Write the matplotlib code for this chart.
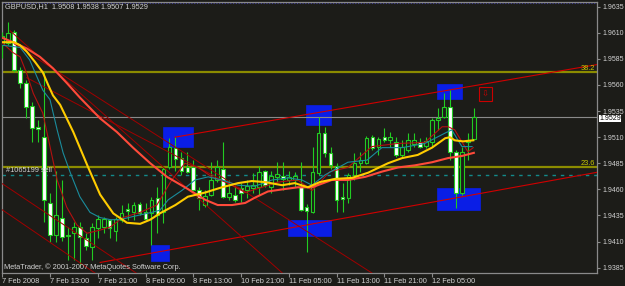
"""GBPUSD H1 chart, MetaTrader-style look."""
import matplotlib
matplotlib.use("Agg")
import matplotlib.pyplot as plt
from matplotlib.patches import Rectangle
from matplotlib.transforms import blended_transform_factory

plt.rcParams['font.family'] = ['Liberation Sans', 'DejaVu Sans']

BG = '#1c1c18'
TXT = '#d2d2d2'
GRID = '#8a8a8a'
CANDLE = '#22cc22'

# hourly bars from 7 Feb 2008 05:00
opens = [1.9598, 1.9600, 1.9611, 1.9574, 1.9562, 1.9540, 1.9520, 1.9510, 1.9447, 1.9416,
         1.9433, 1.9416, 1.9418, 1.9424, 1.9413, 1.9405, 1.9423, 1.9424, 1.9431, 1.9420,
         1.9431, 1.9441, 1.9438, 1.9446, 1.9438, 1.9437, 1.9452, 1.9438, 1.9481, 1.9500,
         1.9490, 1.9481, 1.9481, 1.9459, 1.9445, 1.9455, 1.9469, 1.9480, 1.9453, 1.9455,
         1.9461, 1.9459, 1.9461, 1.9462, 1.9478, 1.9462, 1.9472, 1.9473, 1.9469, 1.9469,
         1.9462, 1.9443, 1.9438, 1.9476, 1.9514, 1.9495, 1.9482, 1.9453, 1.9452, 1.9474,
         1.9485, 1.9485, 1.9510, 1.9501, 1.9510, 1.9507, 1.9505, 1.9493, 1.9498, 1.9503,
         1.9505, 1.9502, 1.9505, 1.9526, 1.9529, 1.9539, 1.9496, 1.9457, 1.9505, 1.9508]
highs = [1.9611, 1.9620, 1.9613, 1.9577, 1.9565, 1.9544, 1.9526, 1.9572, 1.9457, 1.9478,
         1.9469, 1.9424, 1.9429, 1.9429, 1.9418, 1.9428, 1.9435, 1.9434, 1.9432, 1.9434,
         1.9445, 1.9447, 1.9448, 1.9448, 1.9447, 1.9453, 1.9462, 1.9481, 1.9509, 1.9510,
         1.9496, 1.9496, 1.9488, 1.9462, 1.9459, 1.9486, 1.9488, 1.9505, 1.9469, 1.9466,
         1.9466, 1.9469, 1.9476, 1.9482, 1.9479, 1.9478, 1.9486, 1.9486, 1.9478, 1.9477,
         1.9486, 1.9446, 1.9501, 1.9529, 1.9520, 1.9501, 1.9485, 1.9466, 1.9476, 1.9495,
         1.9496, 1.9511, 1.9512, 1.9510, 1.9519, 1.9515, 1.9510, 1.9507, 1.9514, 1.9514,
         1.9509, 1.9510, 1.9528, 1.9538, 1.9552, 1.9555, 1.9498, 1.9501, 1.9514, 1.9538]
lows = [1.9586, 1.9598, 1.9572, 1.9557, 1.9528, 1.9505, 1.9505, 1.9429, 1.9410, 1.9410,
        1.9411, 1.9392, 1.9392, 1.9388, 1.9402, 1.9392, 1.9413, 1.9418, 1.9413, 1.9411,
        1.9429, 1.9431, 1.9431, 1.9435, 1.9431, 1.9407, 1.9418, 1.9428, 1.9480, 1.9478,
        1.9474, 1.9476, 1.9458, 1.9440, 1.9443, 1.9454, 1.9467, 1.9452, 1.9450, 1.9448,
        1.9448, 1.9452, 1.9457, 1.9455, 1.9462, 1.9457, 1.9467, 1.9459, 1.9464, 1.9462,
        1.9439, 1.9400, 1.9437, 1.9474, 1.9491, 1.9480, 1.9438, 1.9438, 1.9447, 1.9469,
        1.9477, 1.9484, 1.9498, 1.9493, 1.9505, 1.9501, 1.9491, 1.9490, 1.9496, 1.9501,
        1.9500, 1.9500, 1.9501, 1.9517, 1.9528, 1.9488, 1.9442, 1.9455, 1.9488, 1.9507]
closes = [1.9607, 1.9610, 1.9574, 1.9562, 1.9539, 1.9519, 1.9518, 1.9450, 1.9416, 1.9435,
          1.9414, 1.9415, 1.9424, 1.9414, 1.9406, 1.9424, 1.9432, 1.9432, 1.9423, 1.9432,
          1.9437, 1.9439, 1.9445, 1.9437, 1.9432, 1.9450, 1.9435, 1.9480, 1.9501, 1.9489,
          1.9478, 1.9477, 1.9459, 1.9452, 1.9454, 1.9469, 1.9481, 1.9453, 1.9457, 1.9450,
          1.9457, 1.9463, 1.9464, 1.9477, 1.9464, 1.9473, 1.9475, 1.9470, 1.9472, 1.9473,
          1.9440, 1.9439, 1.9477, 1.9514, 1.9495, 1.9483, 1.9450, 1.9451, 1.9474, 1.9485,
          1.9488, 1.9509, 1.9500, 1.9508, 1.9507, 1.9510, 1.9493, 1.9501, 1.9507, 1.9507,
          1.9501, 1.9506, 1.9526, 1.9528, 1.9539, 1.9496, 1.9457, 1.9496, 1.9507, 1.9529]

# moving averages (bar position, price)
ma_yellow_x = [0.1, 2.0, 3.0, 4.1, 5.5, 6.8, 7.7, 8.5, 9.7, 11.9, 14.4, 16.4, 18.6, 20.9,
               23.1, 24.8, 26.4, 29.0, 31.1, 34.0, 36.8, 39.5, 41.8, 44.0, 46.9, 49.0,
               51.2, 53.2, 55.7, 58.6, 61.3, 64.6, 67.0, 69.6, 72.0, 74.2, 75.0, 75.8,
               77.2, 78.9]
ma_yellow = [1.9601, 1.9601, 1.9598, 1.9592, 1.9582, 1.9572, 1.9560, 1.9550, 1.9541, 1.9515,
             1.9481, 1.9455, 1.9437, 1.9428, 1.9427, 1.9431, 1.9437, 1.9445, 1.9453, 1.9457,
             1.9462, 1.9466, 1.9468, 1.9467, 1.9464, 1.9466, 1.9462, 1.9467, 1.9470, 1.9471,
             1.9476, 1.9485, 1.9490, 1.9493, 1.9500, 1.9509, 1.9510, 1.9507, 1.9506, 1.9507]
ma_orange_x = [0.1, 1.8, 4.1, 6.3, 8.5, 10.8, 13.0, 16.4, 19.2, 21.9, 24.8, 27.6, 30.9, 34.0,
               36.1, 38.5, 40.7, 42.3, 44.5, 46.9, 49.5, 51.9, 55.2, 57.9, 60.8, 63.6,
               66.3, 69.1, 72.0, 74.7, 77.0, 79.0]
ma_orange = [1.9605, 1.9601, 1.9595, 1.9587, 1.9576, 1.9562, 1.9548, 1.9528, 1.9515, 1.9500,
             1.9485, 1.9472, 1.9461, 1.9450, 1.9445, 1.9445, 1.9447, 1.9452, 1.9458, 1.9460,
             1.9462, 1.9462, 1.9469, 1.9469, 1.9472, 1.9477, 1.9481, 1.9483, 1.9486, 1.9490,
             1.9492, 1.9495]
ma_teal_x = [0.1, 3.0, 4.6, 5.8, 6.8, 8.0, 9.2, 10.2, 11.4, 13.0, 14.7, 16.4, 18.1, 19.7,
             21.9, 24.3, 26.4, 27.8, 30.1, 32.3, 34.5, 36.8, 39.5, 42.3, 45.2, 47.9, 50.2,
             51.9, 54.1, 57.9, 61.1, 63.6, 67.0, 70.8, 74.2, 75.3, 77.0, 78.7]
ma_teal = [1.9598, 1.9596, 1.9584, 1.9568, 1.9555, 1.9546, 1.9517, 1.9495, 1.9476, 1.9453,
           1.9438, 1.9433, 1.9431, 1.9431, 1.9434, 1.9437, 1.9440, 1.9450, 1.9459, 1.9469,
           1.9472, 1.9469, 1.9464, 1.9463, 1.9469, 1.9471, 1.9469, 1.9464, 1.9474, 1.9486,
           1.9488, 1.9500, 1.9500, 1.9504, 1.9514, 1.9517, 1.9501, 1.9501]
ma_darkred_x = [0.1, 1.8, 3.0, 4.1, 5.2, 6.8, 8.0, 9.2, 10.8, 12.5, 14.2, 16.4, 18.1, 20.2,
                23.1, 25.9, 28.4, 30.6, 32.8, 35.1, 37.8, 40.7, 43.5, 46.2, 49.5, 51.9,
                54.9, 57.9, 61.9, 66.3, 70.8, 73.7, 74.7, 75.8, 78.0, 78.9]
ma_darkred = [1.9600, 1.9591, 1.9587, 1.9571, 1.9552, 1.9533, 1.9501, 1.9469, 1.9443, 1.9426,
              1.9418, 1.9421, 1.9424, 1.9433, 1.9438, 1.9445, 1.9469, 1.9485, 1.9481, 1.9472,
              1.9466, 1.9457, 1.9462, 1.9467, 1.9469, 1.9459, 1.9477, 1.9481, 1.9501, 1.9504,
              1.9505, 1.9520, 1.9520, 1.9517, 1.9496, 1.9500]

# chart objects
trend_lines = [  # bar0, price0, bar1, price1, extend right
    (28.9, 1.9510, 76.7, 1.9557, True),
    (16.4, 1.9390, 80.0, 1.9456, True),
    (1.3, 1.9612, 46.9, 1.9380, False),
    (2.1, 1.9599, 61.9, 1.9380, False),
    (4.1, 1.9567, 39.8, 1.9460, False),
    (-0.4, 1.9467, 22.4, 1.9380, False),
    (-0.4, 1.9442, 15.5, 1.9380, False),
]
boxes = [  # bar0, bar1, price_lo, price_hi
    (27.0, 32.0, 1.9501, 1.9520),
    (25.0, 28.0, 1.9391, 1.9407),
    (50.9, 55.0, 1.9522, 1.9541),
    (47.9, 55.0, 1.9415, 1.9431),
    (72.9, 77.0, 1.9547, 1.9561),
    (72.9, 80.0, 1.9440, 1.9461),
]
fibo_levels = [38.2, 23.6]
fibo_prices = [1.9572, 1.9481]
order_price = 1.9474
order_label = '#1065199 sell'

tick_bars = [0, 8, 16, 24, 32, 40, 48, 56, 64, 72]
tick_labels = ['7 Feb 2008', '7 Feb 13:00', '7 Feb 21:00', '8 Feb 05:00', '8 Feb 13:00',
               '10 Feb 21:00', '11 Feb 05:00', '11 Feb 13:00', '11 Feb 21:00', '12 Feb 05:00']
price_ticks = [1.9385, 1.9410, 1.9435, 1.9460, 1.9485, 1.9510, 1.9535, 1.9560, 1.9585,
               1.9610, 1.9635]


def draw_candles(ax):
    for i in range(len(opens)):
        o, h, l, c = opens[i], highs[i], lows[i], closes[i]
        ax.plot([i, i], [l, h], color=CANDLE, lw=0.8, zorder=3, solid_capstyle='butt')
        bottom = min(o, c)
        face = 'white' if c < o else BG
        ax.add_patch(Rectangle((i - 0.3, bottom), 0.6, abs(c - o) or 0.00002,
                               facecolor=face, edgecolor=CANDLE, lw=0.8, zorder=4))


def draw_objects(ax):
    for b0, b1, lo, hi in boxes:
        ax.add_patch(Rectangle((b0, lo), b1 - b0, hi - lo, facecolor='#0a1ee6',
                               edgecolor='#0a1ee6', lw=0.5, zorder=1))

    for price, level in zip(fibo_prices, fibo_levels):
        ax.axhline(price, color='#8c8c00', lw=1.6, zorder=2)
        ax.text(99.3, price + 0.00005, f'{level:.1f}', color='#c8c800', fontsize=5.3,
                ha='right', va='bottom', zorder=6)

    ax.axhline(closes[-1], color='#8a8a8a', lw=0.8, zorder=2)
    ax.axhline(order_price, color='#138a8a', lw=1.0, ls=(0, (2.5, 3.5)), zorder=2)
    ax.text(0.7, order_price + 0.00012, order_label, color=TXT, fontsize=5.3,
            ha='left', va='bottom', zorder=6)
    ax.axhline(1.96382, color='#3a3a9a', lw=0.8, ls=(0, (1, 1.5)), zorder=2)

    xmax = ax.get_xlim()[1]
    for b0, p0, b1, p1, ray in trend_lines:
        if ray:
            slope = (p1 - p0) / (b1 - b0)
            b1, p1 = xmax, p0 + slope * (xmax - b0)
            ax.plot([b0, b1], [p0, p1], color='#d00000', lw=0.8, zorder=5)
        else:
            ax.plot([b0, b1], [p0, p1], color='#a00000', lw=0.7, zorder=5)

    # sell arrow marker
    ax.add_patch(Rectangle((79.9, 1.9545), 2.1, 0.0013, facecolor='none',
                           edgecolor='#cc0000', lw=0.8, zorder=5))
    ax.text(80.95, 1.95515, '\u21e9', color='#cc0000', fontsize=6, ha='center',
            va='center', family='DejaVu Sans', zorder=6)


def draw_mas(ax):
    ax.plot(ma_darkred_x, ma_darkred, color='#b41010', lw=0.8, zorder=5)
    ax.plot(ma_teal_x, ma_teal, color='#1a8c9c', lw=0.8, zorder=5)
    ax.plot(ma_orange_x, ma_orange, color='#ff4a3a', lw=1.5, zorder=5)
    ax.plot(ma_yellow_x, ma_yellow, color='#ffcc00', lw=1.5, zorder=5)


def style_axes(fig, ax):
    ax.set_facecolor(BG)
    for sp in ax.spines.values():
        sp.set_color(GRID)
        sp.set_linewidth(0.9)

    ax.set_xticks(tick_bars)
    ax.set_xticklabels(tick_labels, ha='left')
    ax.tick_params(axis='x', direction='out', length=3, width=0.8, color=GRID, pad=0.5,
                   labelsize=5.3, labelcolor=TXT)

    ax.yaxis.tick_right()
    ax.set_yticks(price_ticks)
    ax.set_yticklabels([f'{p:.4f}' for p in price_ticks])
    ax.tick_params(axis='y', direction='out', length=2.5, width=0.8, color=GRID, pad=1.5,
                   labelsize=5.0, labelcolor=TXT)

    trans = blended_transform_factory(ax.transAxes, ax.transData)
    ax.text(1.004, closes[-1] - 0.0001, f'{closes[-1]:.4f}', transform=trans, color='black',
            fontsize=5.0, ha='left', va='center', zorder=7,
            bbox=dict(facecolor='white', edgecolor='none', pad=0.2))

    fig.text(5 / 625, 1 - 6.5 / 286,
             f'GBPUSD,H1  {opens[-1]:.4f} {highs[-1]:.4f} {lows[-1]:.4f} {closes[-1]:.4f}',
             color=TXT, fontsize=5.3, ha='left', va='center')
    fig.text(4 / 625, 1 - 267 / 286, 'MetaTrader, \u00a9 2001-2007 MetaQuotes Software Corp.',
             color=TXT, fontsize=5.3, ha='left', va='center')


fig = plt.figure(figsize=(6.25, 2.86), dpi=100, facecolor=BG)
ax = fig.add_axes([2 / 625, 13 / 286, 595 / 625, 271 / 286])
ax.set_xlim(-0.04, 99.63)
ax.set_ylim(1.93799, 1.96395)

draw_objects(ax)
draw_candles(ax)
draw_mas(ax)
style_axes(fig, ax)

fig.savefig('out.png', dpi=100, facecolor=BG)
